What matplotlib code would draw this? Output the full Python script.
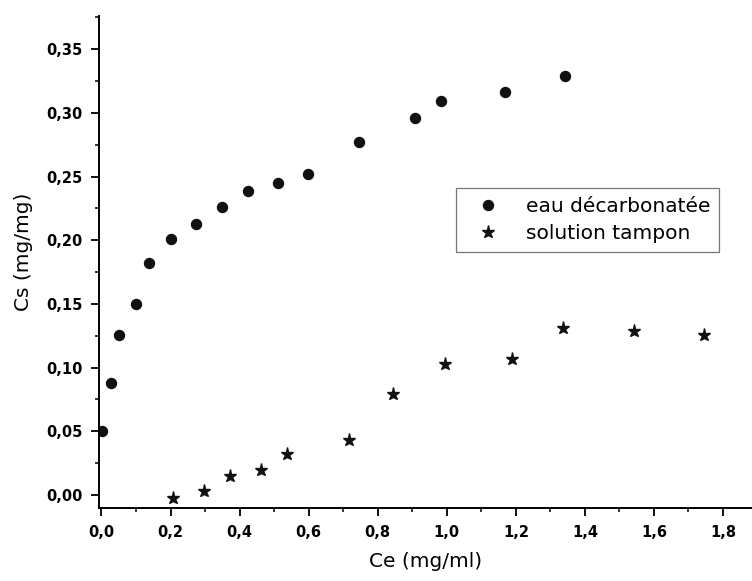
import matplotlib
matplotlib.use("Agg")
import matplotlib.pyplot as plt
from matplotlib.ticker import MultipleLocator, FuncFormatter

# eau decarbonatee (circles)
ce_eau = [0.002, 0.027, 0.052, 0.100, 0.138, 0.200, 0.275, 0.350, 0.423,
          0.511, 0.597, 0.747, 0.908, 0.982, 1.169, 1.342]
cs_eau = [0.050, 0.088, 0.126, 0.150, 0.182, 0.201, 0.213, 0.226, 0.239,
          0.245, 0.252, 0.277, 0.296, 0.309, 0.316, 0.329]

# solution tampon (stars)
ce_tampon = [0.208, 0.297, 0.372, 0.461, 0.538, 0.718, 0.843, 0.996,
             1.188, 1.337, 1.543, 1.746]
cs_tampon = [-0.002, 0.003, 0.015, 0.020, 0.032, 0.043, 0.079, 0.103,
             0.107, 0.131, 0.129, 0.126]

labels = ["eau décarbonatée", "solution tampon"]

fig = plt.figure(figsize=(7.52, 5.81), dpi=100)
ax = fig.add_axes([0.1316, 0.1256, 0.8684, 0.8468])

ax.plot(ce_eau, cs_eau, linestyle="none", marker="o", markersize=7.2,
        color="#111111", label=labels[0])
ax.plot(ce_tampon, cs_tampon, linestyle="none", marker="*", markersize=9.5,
        color="#111111", label=labels[1])

ax.set_xlim(-0.0072, 1.884)
ax.set_ylim(-0.0102, 0.376)

ax.xaxis.set_major_locator(MultipleLocator(0.2))
ax.xaxis.set_minor_locator(MultipleLocator(0.1))
ax.yaxis.set_major_locator(MultipleLocator(0.05))
ax.yaxis.set_minor_locator(MultipleLocator(0.025))
ax.xaxis.set_major_formatter(FuncFormatter(lambda v, p: f"{v:.1f}".replace(".", ",")))
ax.yaxis.set_major_formatter(FuncFormatter(lambda v, p: f"{v:.2f}".replace(".", ",")))

for s in ["top", "right"]:
    ax.spines[s].set_visible(False)
for s in ["left", "bottom"]:
    ax.spines[s].set_linewidth(1.4)

ax.tick_params(which="major", direction="out", length=5.5, width=1.3,
               labelsize=10.5)
ax.tick_params(axis="y", which="major", pad=6)
ax.tick_params(axis="x", which="major", pad=7)
ax.tick_params(which="minor", direction="out", length=3, width=1.1)
for lab in ax.get_xticklabels() + ax.get_yticklabels():
    lab.set_fontweight("bold")

ax.set_xlabel("Ce (mg/ml)", fontsize=14.5)
ax.set_ylabel("Cs (mg/mg)", fontsize=14.5)
ax.xaxis.set_label_coords(0.5, -0.089)
ax.yaxis.set_label_coords(-0.101, 0.52)

leg = ax.legend(loc="upper left", bbox_to_anchor=(0.547, 0.650),
                borderaxespad=0, fancybox=False, fontsize=14.5,
                handletextpad=0.7, labelspacing=0.4, borderpad=0.45,
                handlelength=2.3)
leg.get_frame().set_edgecolor("#555555")
leg.get_frame().set_linewidth(0.9)

fig.savefig("out.png", dpi=100)
